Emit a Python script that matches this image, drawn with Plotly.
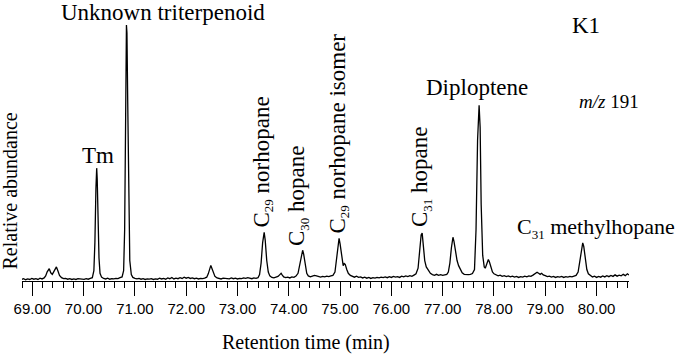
import plotly.graph_objects as go

# ---------------- data ----------------
rt_min = [
    68.79, 68.83, 68.87, 68.91, 68.95, 68.99, 69.03, 69.07, 69.11, 69.15, 69.19, 69.23,
    69.26, 69.29, 69.33, 69.36, 69.39, 69.42, 69.47, 69.50, 69.53, 69.57, 69.61, 69.65,
    69.69, 69.73, 69.77, 69.81, 69.85, 69.89, 69.93, 69.97, 70.01, 70.05, 70.09, 70.13,
    70.17, 70.20, 70.22, 70.24, 70.255, 70.265, 70.28, 70.30, 70.32, 70.35, 70.39, 70.43,
    70.47, 70.51, 70.55, 70.59, 70.63, 70.67, 70.71, 70.75, 70.78, 70.80, 70.82, 70.835,
    70.845, 70.86, 70.88, 70.90, 70.93, 70.96, 71.00, 71.04, 71.08, 71.12, 71.16, 71.20,
    71.24, 71.28, 71.32, 71.36, 71.40, 71.44, 71.48, 71.52, 71.56, 71.60, 71.64, 71.68,
    71.72, 71.76, 71.80, 71.84, 71.88, 71.92, 71.96, 72.00, 72.04, 72.08, 72.12, 72.16,
    72.20, 72.24, 72.28, 72.32, 72.36, 72.40, 72.43, 72.46, 72.48, 72.50, 72.53, 72.56,
    72.60, 72.64, 72.68, 72.72, 72.76, 72.80, 72.84, 72.88, 72.92, 72.96, 73.00, 73.04,
    73.08, 73.12, 73.16, 73.20, 73.24, 73.28, 73.32, 73.36, 73.40, 73.43, 73.46, 73.49,
    73.52, 73.54, 73.57, 73.60, 73.63, 73.67, 73.71, 73.75, 73.79, 73.83, 73.85, 73.87,
    73.90, 73.94, 73.98, 74.02, 74.06, 74.10, 74.14, 74.18, 74.21, 74.24, 74.27, 74.29,
    74.32, 74.35, 74.38, 74.42, 74.46, 74.50, 74.54, 74.58, 74.62, 74.66, 74.70, 74.74,
    74.78, 74.82, 74.86, 74.90, 74.93, 74.96, 74.98, 75.00, 75.03, 75.06, 75.08, 75.10,
    75.13, 75.16, 75.20, 75.24, 75.28, 75.32, 75.36, 75.40, 75.44, 75.48, 75.52, 75.56,
    75.60, 75.64, 75.68, 75.72, 75.76, 75.80, 75.84, 75.88, 75.92, 75.96, 76.00, 76.04,
    76.08, 76.12, 76.16, 76.20, 76.24, 76.28, 76.32, 76.36, 76.40, 76.44, 76.48, 76.52,
    76.55, 76.58, 76.60, 76.62, 76.65, 76.68, 76.72, 76.76, 76.80, 76.84, 76.88, 76.92,
    76.96, 77.00, 77.04, 77.08, 77.11, 77.14, 77.17, 77.20, 77.22, 77.25, 77.28, 77.31,
    77.34, 77.38, 77.42, 77.46, 77.50, 77.54, 77.58, 77.62, 77.65, 77.68, 77.71, 77.73,
    77.75, 77.78, 77.81, 77.83, 77.85, 77.87, 77.89, 77.91, 77.94, 77.97, 78.00, 78.04,
    78.08, 78.12, 78.16, 78.20, 78.24, 78.28, 78.32, 78.36, 78.40, 78.44, 78.48, 78.52,
    78.56, 78.60, 78.64, 78.68, 78.72, 78.76, 78.80, 78.84, 78.87, 78.90, 78.93, 78.96,
    79.00, 79.04, 79.08, 79.12, 79.16, 79.20, 79.24, 79.28, 79.32, 79.36, 79.40, 79.44,
    79.48, 79.52, 79.56, 79.60, 79.64, 79.67, 79.70, 79.73, 79.75, 79.78, 79.81, 79.84,
    79.88, 79.92, 79.96, 80.00, 80.04, 80.08, 80.12, 80.16, 80.20, 80.24, 80.28, 80.32,
    80.36, 80.40, 80.44, 80.48, 80.52, 80.56, 80.60, 80.63,
]

rel_abundance = [
    0.6, 0.9, 0.5, 0.8, 0.6, 1.0, 0.7, 0.9, 0.6, 1.1, 0.8, 1.2,
    2.0, 3.6, 4.8, 3.2, 2.6, 3.8, 5.5, 3.9, 2.2, 1.3, 0.9, 1.0,
    0.7, 0.9, 0.6, 0.8, 0.6, 0.9, 0.7, 0.8, 0.6, 0.9, 0.7, 1.0,
    1.3, 4.0, 15.0, 36.0, 44.1, 40.0, 25.0, 9.0, 3.0, 1.5, 1.0, 0.8,
    1.1, 0.7, 0.9, 0.8, 1.0, 0.9, 1.3, 1.6, 4.0, 20.0, 65.0, 100.0,
    97.0, 70.0, 30.0, 8.0, 2.5, 1.4, 1.0, 0.8, 1.0, 0.7, 0.9, 0.6,
    0.8, 0.7, 0.9, 0.6, 0.8, 0.7, 1.1, 0.8, 1.0, 0.7, 1.2, 0.9,
    1.4, 0.8, 1.1, 0.9, 1.3, 1.0, 1.5, 1.1, 1.4, 1.0, 1.2, 0.9,
    1.1, 0.8, 1.0, 0.9, 1.1, 1.5, 2.8, 5.2, 6.1, 5.0, 3.2, 1.8,
    1.2, 1.0, 0.8, 1.1, 0.9, 1.0, 0.8, 1.2, 0.9, 1.1, 0.8, 1.0,
    0.9, 1.2, 1.0, 1.3, 1.1, 0.9, 1.2, 1.0, 1.3, 2.5, 7.0, 15.0,
    19.0, 16.0, 8.0, 3.5, 2.0, 1.4, 1.2, 1.5, 1.8, 2.6, 3.0, 2.4,
    1.6, 1.3, 1.5, 1.2, 1.6, 1.4, 1.9, 3.0, 6.0, 10.0, 12.0, 10.5,
    6.0, 3.0, 2.0, 1.6, 1.9, 2.2, 2.0, 1.7, 1.5, 1.8, 1.6, 1.9,
    1.7, 2.0, 2.2, 3.5, 8.0, 14.0, 16.7, 14.5, 9.0, 6.0, 6.8, 6.5,
    4.5, 3.0, 2.2, 1.8, 1.5, 1.9, 1.4, 1.6, 1.2, 1.5, 1.1, 1.4,
    1.0, 1.3, 1.1, 1.4, 1.2, 1.5, 1.3, 1.6, 1.3, 1.7, 1.4, 1.8,
    1.5, 1.7, 1.4, 1.9, 1.6, 2.0, 1.7, 2.1, 1.8, 2.3, 2.8, 5.0,
    12.0, 18.0, 18.7, 14.0, 8.0, 5.5, 4.0, 3.0, 2.5, 2.2, 2.6, 2.2,
    2.5, 2.2, 2.4, 2.6, 3.5, 7.0, 13.0, 17.1, 15.5, 11.0, 8.0, 6.0,
    4.5, 3.2, 2.6, 2.4, 2.5, 2.6, 2.9, 4.5, 20.0, 55.0, 68.7, 60.0,
    30.0, 10.0, 5.5, 5.0, 6.5, 7.8, 8.4, 7.5, 5.0, 3.5, 2.8, 2.4,
    2.0, 2.3, 1.8, 2.1, 1.7, 2.0, 1.6, 1.9, 1.5, 1.8, 1.4, 1.7,
    1.5, 1.9, 1.6, 2.0, 1.8, 2.3, 2.8, 3.4, 3.0, 2.6, 3.0, 2.4,
    2.1, 1.7, 1.9, 1.5, 1.8, 1.4, 1.7, 1.5, 1.8, 1.4, 1.7, 1.5,
    1.8, 1.6, 1.9, 2.2, 3.5, 7.0, 12.0, 14.9, 13.5, 9.0, 4.5, 2.8,
    2.0, 1.6, 1.9, 1.4, 1.8, 1.5, 2.0, 1.6, 2.1, 1.7, 2.2, 1.8,
    2.4, 1.9, 2.3, 2.0, 2.6, 2.1, 2.8, 2.3,
]

tick_values = [69, 70, 71, 72, 73, 74, 75, 76, 77, 78, 79, 80]
tick_labels = ["69.00", "70.00", "71.00", "72.00", "73.00", "74.00",
               "75.00", "76.00", "77.00", "78.00", "79.00", "80.00"]

x_title = "Retention time (min)"
y_title = "Relative abundance"

# ---------------- geometry helpers (pixel -> paper) ----------------
W, H = 685, 356
ML, MR, MT, MB = 22, 56, 10, 75
X0, X1 = 68.799, 80.632
Y0, Y1 = 0.0, 105.9


def paper_x(px):
    return (px - ML) / (W - ML - MR)


def paper_y(py):
    return (H - MB - py) / (H - MT - MB)


def sub(s, size=13):
    return "<sub><span style='font-size:%dpx'>%s</span></sub>" % (size, s)


fig = go.Figure()
fig.add_trace(go.Scatter(
    x=rt_min, y=rel_abundance, mode="lines",
    line=dict(color="black", width=1.3),
    hoverinfo="skip", showlegend=False,
))

SERIF = "Liberation Serif, Times New Roman, serif"
SANS = "Liberation Sans, Arial, sans-serif"

annots = [
    # text, px x, px y, size, angle
    ("Unknown triterpenoid", 162.5, 12, 23, 0),
    ("Tm", 98, 155, 23, 0),
    ("K1", 586, 26, 23, 0),
    ("<i>m/z</i> 191", 609, 101, 19, 0),
    ("Diploptene", 477, 87, 23, 0),
    ("C" + sub("31") + " methylhopane", 595.5, 228, 22, 0),
    ("C" + sub("29") + " norhopane", 262, 162.5, 23, -90),
    ("C" + sub("30") + " hopane", 298, 196, 23, -90),
    ("C" + sub("29") + " norhopane isomer", 338, 133.5, 23, -90),
    ("C" + sub("31") + " hopane", 421, 177, 23, -90),
    (x_title, 306, 342.5, 20, 0),
    (y_title, 10, 191.5, 20, -90),
]
for text, px, py, size, ang in annots:
    fig.add_annotation(
        x=paper_x(px), y=paper_y(py), xref="paper", yref="paper", text=text,
        showarrow=False, textangle=ang, xanchor="center", yanchor="middle",
        font=dict(family=SERIF, size=size, color="black"),
    )

fig.update_layout(
    width=W, height=H,
    margin=dict(l=ML, r=MR, t=MT, b=MB, pad=0),
    paper_bgcolor="white", plot_bgcolor="white",
    showlegend=False,
    hovermode=False,
)
fig.update_xaxes(
    range=[X0, X1],
    tickmode="array", tickvals=tick_values, ticktext=tick_labels,
    ticks="outside", ticklen=14, tickwidth=1, tickcolor="black",
    minor=dict(ticks="outside", ticklen=6, tickwidth=1, tickcolor="black",
               tick0=68.8, dtick=0.2, showgrid=False),
    showline=True, linecolor="black", linewidth=1,
    showgrid=False, zeroline=False,
    tickfont=dict(family=SANS, size=15, color="black"),
)
fig.update_yaxes(
    range=[Y0, Y1], visible=False, showgrid=False, zeroline=False,
)

fig.write_html(
    "out.html",
    config={"displayModeBar": False, "staticPlot": True},
    post_script="document.body.style.margin='0';document.body.style.padding='0';",
)
